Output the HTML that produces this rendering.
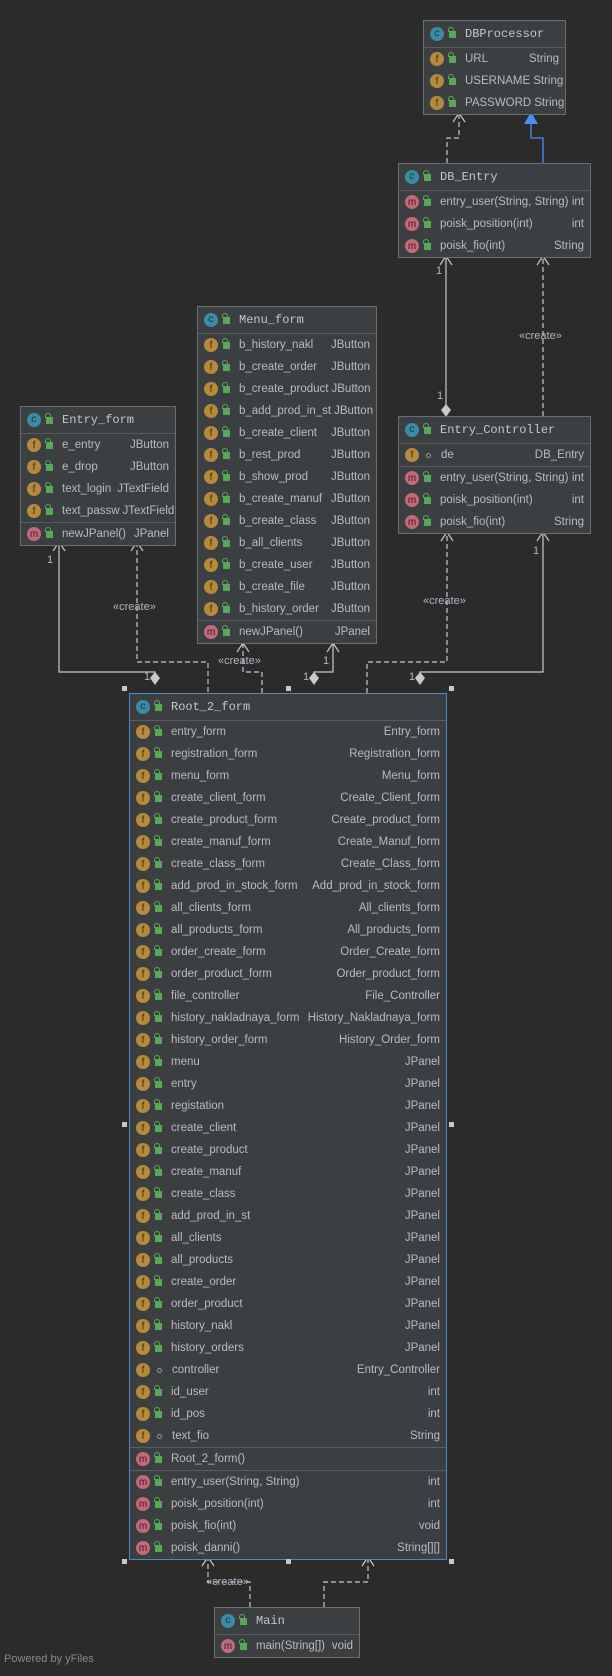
<!DOCTYPE html>
<html><head><meta charset="utf-8"><style>
*{margin:0;padding:0;box-sizing:border-box}
body{width:612px;height:1676px;background:#2b2b2b;position:relative;overflow:hidden;font-family:"Liberation Sans","DejaVu Sans",sans-serif;font-size:11.5px;color:#bbbbbb}
svg{position:absolute;left:0;top:0}
.box{position:absolute;background:#3c3f41;border:1px solid #6b6e70;z-index:2}
.box.sel{border-color:#4a88c7}
.hd{height:27px;border-bottom:1px solid #5a5d5f;display:flex;align-items:center;padding-left:6px;font-family:"Liberation Mono",monospace;font-size:12px;color:#c5c8c9}
.sec{border-bottom:1px solid #5a5d5f;padding:0}
.sec:last-child{border-bottom:none}
.r{height:22px;display:flex;align-items:center;padding:0 6px 0 6px;white-space:nowrap}
.r .n{flex:1}
.r .t{text-align:right;padding-left:3px}
.i{width:14px;height:14px;border-radius:50%;display:inline-flex;align-items:center;justify-content:center;font-size:10px;color:#2b2b2b;margin-right:5px;flex:none}
.c{background:#3a8ba6;color:#23323a}.f{background:#b68a3a;color:#3a2d12}.m{background:#c2697a;color:#3d1a22}
.l{width:7px;height:7px;background:#59a85a;margin-right:9px;flex:none;position:relative}
.l:before{content:"";position:absolute;left:-1px;top:-4px;width:4px;height:4px;border:1.5px solid #59a85a;border-bottom:none;border-radius:3px 3px 0 0}
.p{width:5px;height:5px;border:1px solid #999;border-radius:50%;margin:0 10px 0 2px;flex:none}
.h{position:absolute;width:5px;height:5px;background:#c8c8c8;z-index:3}
.lb{position:absolute;font-size:11px;color:#a9b7c6;z-index:1}
</style></head><body>
<svg width="612" height="1676">
<g fill="none" stroke="#c8c8c8" stroke-width="1.2">
<!-- DB_Entry -> DBProcessor dashed -->
<path d="M447 163 V138 H459 V113" stroke-dasharray="5,3"/>
<path d="M453 122 L459 113 L465 122"/>
<!-- DB_Entry <> Entry_Controller solid -->
<path d="M446 256 V405"/>
<path d="M440 265 L446 256 L452 265"/>
<path d="M543 416 V256" stroke-dasharray="5,3"/>
<path d="M537 265 L543 256 L549 265"/>
<!-- Entry_form -->
<path d="M59 542 V672 H155 V673"/>
<path d="M53 551 L59 542 L65 551"/>
<path d="M137 542 V662 H208 V693" stroke-dasharray="5,3"/>
<path d="M131 551 L137 542 L143 551"/>
<!-- Menu_form -->
<path d="M262 693 V672 H243 V643" stroke-dasharray="5,3"/>
<path d="M237 652 L243 643 L249 652"/>
<path d="M314 673 V672 H333 V643"/>
<path d="M327 652 L333 643 L339 652"/>
<!-- Entry_Controller -->
<path d="M367 693 V662 H447 V532" stroke-dasharray="5,3"/>
<path d="M441 541 L447 532 L453 541"/>
<path d="M420 673 V672 H543 V532"/>
<path d="M537 541 L543 532 L549 541"/>
<!-- Main -->
<path d="M250 1607 V1582 H208 V1557" stroke-dasharray="5,3"/>
<path d="M202 1566 L208 1557 L214 1566"/>
<path d="M324 1607 V1582 H368 V1557" stroke-dasharray="5,3"/>
<path d="M362 1566 L368 1557 L374 1566"/>
</g>
<path d="M543 163 V138 H531 V122" fill="none" stroke="#4a8ef0" stroke-width="1.3"/>
<path d="M524 124 L531 112 L538 124 Z" fill="#4a8ef0"/>
<g fill="#c8c8c8">
<path d="M446 404 L451 410 L446 417 L441 410Z"/>
<path d="M155 672 L160 678 L155 685 L150 678Z"/>
<path d="M314 672 L319 678 L314 685 L309 678Z"/>
<path d="M420 672 L425 678 L420 685 L415 678Z"/>
</g>
</svg>
<div class="lb" style="left:436px;top:265px">1</div>
<div class="lb" style="left:437px;top:390px">1</div>
<div class="lb" style="left:519px;top:330px">«create»</div>
<div class="lb" style="left:47px;top:554px">1</div>
<div class="lb" style="left:113px;top:601px">«create»</div>
<div class="lb" style="left:144px;top:671px">1</div>
<div class="lb" style="left:218px;top:655px">«create»</div>
<div class="lb" style="left:323px;top:655px">1</div>
<div class="lb" style="left:303px;top:671px">1</div>
<div class="lb" style="left:423px;top:595px">«create»</div>
<div class="lb" style="left:409px;top:671px">1</div>
<div class="lb" style="left:533px;top:545px">1</div>
<div class="lb" style="left:206px;top:1576px">«create»</div>

<div class="box" style="left:423px;top:20px;width:143px">
<div class="hd"><span class="i c">c</span><span class="l"></span>DBProcessor</div>
<div class="sec">
<div class="r"><span class="i f">f</span><span class="l"></span><span class="n">URL</span><span class="t">String</span></div>
<div class="r"><span class="i f">f</span><span class="l"></span><span class="n">USERNAME</span><span class="t">String</span></div>
<div class="r"><span class="i f">f</span><span class="l"></span><span class="n">PASSWORD</span><span class="t">String</span></div>
</div></div>

<div class="box" style="left:398px;top:163px;width:193px">
<div class="hd"><span class="i c">c</span><span class="l"></span>DB_Entry</div>
<div class="sec">
<div class="r"><span class="i m">m</span><span class="l"></span><span class="n">entry_user(String, String)</span><span class="t">int</span></div>
<div class="r"><span class="i m">m</span><span class="l"></span><span class="n">poisk_position(int)</span><span class="t">int</span></div>
<div class="r"><span class="i m">m</span><span class="l"></span><span class="n">poisk_fio(int)</span><span class="t">String</span></div>
</div></div>

<div class="box" style="left:197px;top:306px;width:180px">
<div class="hd"><span class="i c">c</span><span class="l"></span>Menu_form</div>
<div class="sec">
<div class="r"><span class="i f">f</span><span class="l"></span><span class="n">b_history_nakl</span><span class="t">JButton</span></div>
<div class="r"><span class="i f">f</span><span class="l"></span><span class="n">b_create_order</span><span class="t">JButton</span></div>
<div class="r"><span class="i f">f</span><span class="l"></span><span class="n">b_create_product</span><span class="t">JButton</span></div>
<div class="r"><span class="i f">f</span><span class="l"></span><span class="n">b_add_prod_in_st</span><span class="t">JButton</span></div>
<div class="r"><span class="i f">f</span><span class="l"></span><span class="n">b_create_client</span><span class="t">JButton</span></div>
<div class="r"><span class="i f">f</span><span class="l"></span><span class="n">b_rest_prod</span><span class="t">JButton</span></div>
<div class="r"><span class="i f">f</span><span class="l"></span><span class="n">b_show_prod</span><span class="t">JButton</span></div>
<div class="r"><span class="i f">f</span><span class="l"></span><span class="n">b_create_manuf</span><span class="t">JButton</span></div>
<div class="r"><span class="i f">f</span><span class="l"></span><span class="n">b_create_class</span><span class="t">JButton</span></div>
<div class="r"><span class="i f">f</span><span class="l"></span><span class="n">b_all_clients</span><span class="t">JButton</span></div>
<div class="r"><span class="i f">f</span><span class="l"></span><span class="n">b_create_user</span><span class="t">JButton</span></div>
<div class="r"><span class="i f">f</span><span class="l"></span><span class="n">b_create_file</span><span class="t">JButton</span></div>
<div class="r"><span class="i f">f</span><span class="l"></span><span class="n">b_history_order</span><span class="t">JButton</span></div>
</div><div class="sec">
<div class="r"><span class="i m">m</span><span class="l"></span><span class="n">newJPanel()</span><span class="t">JPanel</span></div>
</div></div>

<div class="box" style="left:20px;top:406px;width:156px">
<div class="hd"><span class="i c">c</span><span class="l"></span>Entry_form</div>
<div class="sec">
<div class="r"><span class="i f">f</span><span class="l"></span><span class="n">e_entry</span><span class="t">JButton</span></div>
<div class="r"><span class="i f">f</span><span class="l"></span><span class="n">e_drop</span><span class="t">JButton</span></div>
<div class="r"><span class="i f">f</span><span class="l"></span><span class="n">text_login</span><span class="t">JTextField</span></div>
<div class="r"><span class="i f">f</span><span class="l"></span><span class="n">text_passw</span><span class="t">JTextField</span></div>
</div><div class="sec">
<div class="r"><span class="i m">m</span><span class="l"></span><span class="n">newJPanel()</span><span class="t">JPanel</span></div>
</div></div>

<div class="box" style="left:398px;top:416px;width:193px">
<div class="hd"><span class="i c">c</span><span class="l"></span>Entry_Controller</div>
<div class="sec">
<div class="r"><span class="i f">f</span><span class="p"></span><span class="n">de</span><span class="t">DB_Entry</span></div>
</div><div class="sec">
<div class="r"><span class="i m">m</span><span class="l"></span><span class="n">entry_user(String, String)</span><span class="t">int</span></div>
<div class="r"><span class="i m">m</span><span class="l"></span><span class="n">poisk_position(int)</span><span class="t">int</span></div>
<div class="r"><span class="i m">m</span><span class="l"></span><span class="n">poisk_fio(int)</span><span class="t">String</span></div>
</div></div>

<div class="box sel" style="left:129px;top:693px;width:318px">
<div class="hd"><span class="i c">c</span><span class="l"></span>Root_2_form</div>
<div class="sec">
<div class="r"><span class="i f">f</span><span class="l"></span><span class="n">entry_form</span><span class="t">Entry_form</span></div>
<div class="r"><span class="i f">f</span><span class="l"></span><span class="n">registration_form</span><span class="t">Registration_form</span></div>
<div class="r"><span class="i f">f</span><span class="l"></span><span class="n">menu_form</span><span class="t">Menu_form</span></div>
<div class="r"><span class="i f">f</span><span class="l"></span><span class="n">create_client_form</span><span class="t">Create_Client_form</span></div>
<div class="r"><span class="i f">f</span><span class="l"></span><span class="n">create_product_form</span><span class="t">Create_product_form</span></div>
<div class="r"><span class="i f">f</span><span class="l"></span><span class="n">create_manuf_form</span><span class="t">Create_Manuf_form</span></div>
<div class="r"><span class="i f">f</span><span class="l"></span><span class="n">create_class_form</span><span class="t">Create_Class_form</span></div>
<div class="r"><span class="i f">f</span><span class="l"></span><span class="n">add_prod_in_stock_form</span><span class="t">Add_prod_in_stock_form</span></div>
<div class="r"><span class="i f">f</span><span class="l"></span><span class="n">all_clients_form</span><span class="t">All_clients_form</span></div>
<div class="r"><span class="i f">f</span><span class="l"></span><span class="n">all_products_form</span><span class="t">All_products_form</span></div>
<div class="r"><span class="i f">f</span><span class="l"></span><span class="n">order_create_form</span><span class="t">Order_Create_form</span></div>
<div class="r"><span class="i f">f</span><span class="l"></span><span class="n">order_product_form</span><span class="t">Order_product_form</span></div>
<div class="r"><span class="i f">f</span><span class="l"></span><span class="n">file_controller</span><span class="t">File_Controller</span></div>
<div class="r"><span class="i f">f</span><span class="l"></span><span class="n">history_nakladnaya_form</span><span class="t">History_Nakladnaya_form</span></div>
<div class="r"><span class="i f">f</span><span class="l"></span><span class="n">history_order_form</span><span class="t">History_Order_form</span></div>
<div class="r"><span class="i f">f</span><span class="l"></span><span class="n">menu</span><span class="t">JPanel</span></div>
<div class="r"><span class="i f">f</span><span class="l"></span><span class="n">entry</span><span class="t">JPanel</span></div>
<div class="r"><span class="i f">f</span><span class="l"></span><span class="n">registation</span><span class="t">JPanel</span></div>
<div class="r"><span class="i f">f</span><span class="l"></span><span class="n">create_client</span><span class="t">JPanel</span></div>
<div class="r"><span class="i f">f</span><span class="l"></span><span class="n">create_product</span><span class="t">JPanel</span></div>
<div class="r"><span class="i f">f</span><span class="l"></span><span class="n">create_manuf</span><span class="t">JPanel</span></div>
<div class="r"><span class="i f">f</span><span class="l"></span><span class="n">create_class</span><span class="t">JPanel</span></div>
<div class="r"><span class="i f">f</span><span class="l"></span><span class="n">add_prod_in_st</span><span class="t">JPanel</span></div>
<div class="r"><span class="i f">f</span><span class="l"></span><span class="n">all_clients</span><span class="t">JPanel</span></div>
<div class="r"><span class="i f">f</span><span class="l"></span><span class="n">all_products</span><span class="t">JPanel</span></div>
<div class="r"><span class="i f">f</span><span class="l"></span><span class="n">create_order</span><span class="t">JPanel</span></div>
<div class="r"><span class="i f">f</span><span class="l"></span><span class="n">order_product</span><span class="t">JPanel</span></div>
<div class="r"><span class="i f">f</span><span class="l"></span><span class="n">history_nakl</span><span class="t">JPanel</span></div>
<div class="r"><span class="i f">f</span><span class="l"></span><span class="n">history_orders</span><span class="t">JPanel</span></div>
<div class="r"><span class="i f">f</span><span class="p"></span><span class="n">controller</span><span class="t">Entry_Controller</span></div>
<div class="r"><span class="i f">f</span><span class="l"></span><span class="n">id_user</span><span class="t">int</span></div>
<div class="r"><span class="i f">f</span><span class="l"></span><span class="n">id_pos</span><span class="t">int</span></div>
<div class="r"><span class="i f">f</span><span class="p"></span><span class="n">text_fio</span><span class="t">String</span></div>
</div><div class="sec">
<div class="r"><span class="i m">m</span><span class="l"></span><span class="n">Root_2_form()</span></div>
</div><div class="sec">
<div class="r"><span class="i m">m</span><span class="l"></span><span class="n">entry_user(String, String)</span><span class="t">int</span></div>
<div class="r"><span class="i m">m</span><span class="l"></span><span class="n">poisk_position(int)</span><span class="t">int</span></div>
<div class="r"><span class="i m">m</span><span class="l"></span><span class="n">poisk_fio(int)</span><span class="t">void</span></div>
<div class="r"><span class="i m">m</span><span class="l"></span><span class="n">poisk_danni()</span><span class="t">String[][]</span></div>
</div></div>

<div class="box" style="left:214px;top:1607px;width:146px">
<div class="hd"><span class="i c">c</span><span class="l"></span>Main</div>
<div class="sec">
<div class="r"><span class="i m">m</span><span class="l"></span><span class="n">main(String[])</span><span class="t">void</span></div>
</div></div>

<div class="h" style="left:122px;top:686px"></div>
<div class="h" style="left:286px;top:686px"></div>
<div class="h" style="left:449px;top:686px"></div>
<div class="h" style="left:122px;top:1122px"></div>
<div class="h" style="left:449px;top:1122px"></div>
<div class="h" style="left:122px;top:1559px"></div>
<div class="h" style="left:286px;top:1559px"></div>
<div class="h" style="left:449px;top:1559px"></div>
<div style="position:absolute;left:4px;top:1653px;font-size:11px;color:#8a8a8a">Powered by yFiles</div>
</body></html>
